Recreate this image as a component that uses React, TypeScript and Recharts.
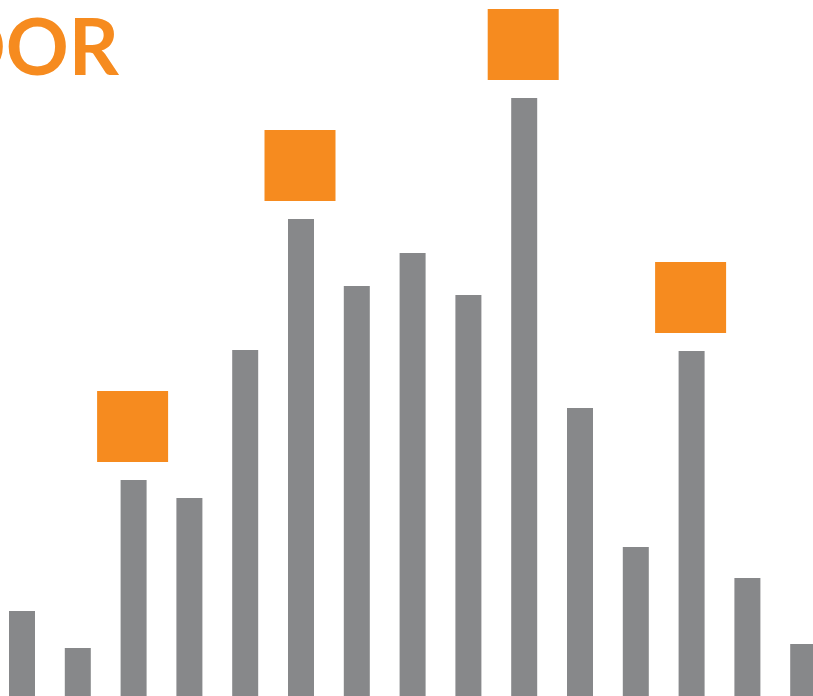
import { BarChart, Bar, XAxis, YAxis, LabelList } from 'recharts';

// Visible categories (the image is a crop of a wider graphic)
const categories = ['1', '2', '3', '4', '5', '6', '7', '8', '9', '10', '11', '12', '13', '14', '15'];
// Bar heights (arbitrary units)
const values = [85, 48, 216, 198, 346, 477, 410, 443, 401, 598, 288, 149, 345, 118, 52];
// Bars that carry an orange marker above them
const highlighted = [false, false, true, false, false, true, false, false, false, true, false, false, true, false, false];

const title = 'OUTDOOR';

const GRAY = '#87888a';
const ORANGE = '#f68b1f';

const data = categories.map((c, i) => ({ name: c, value: values[i], hl: highlighted[i] }));

// Orange square drawn above highlighted bars
const Marker = (props: any) => {
  const { x, y, width, index } = props;
  if (!highlighted[index]) return null;
  const size = 71;
  const gap = 18;
  const cx = x + width / 2 - 1;
  return <rect x={cx - size / 2} y={y - gap - size} width={size} height={size} fill={ORANGE} />;
};

export default function App() {
  return (
    <div style={{
      position: 'fixed', left: 0, top: 0, width: 813, height: 696,
      overflow: 'hidden', background: 'white',
    }}>
      <div style={{ position: 'absolute', left: -6, top: 0 }}>
        <BarChart width={837} height={696} data={data} margin={{ top: 0, right: 0, bottom: 0, left: 0 }} barSize={26}>
          <XAxis dataKey="name" hide />
          <YAxis hide domain={[0, 696]} />
          <Bar dataKey="value" fill={GRAY} isAnimationActive={false}>
            <LabelList dataKey="value" content={Marker} />
          </Bar>
        </BarChart>
      </div>
      <svg width={813} height={696} style={{ position: 'absolute', left: 0, top: 0, pointerEvents: 'none' }}>
        <text x={119} y={75} textAnchor="end" fill={ORANGE}
          style={{ fontFamily: 'Lato, sans-serif', fontWeight: 700, fontSize: 78 }}>
          {title}
        </text>
      </svg>
    </div>
  );
}
